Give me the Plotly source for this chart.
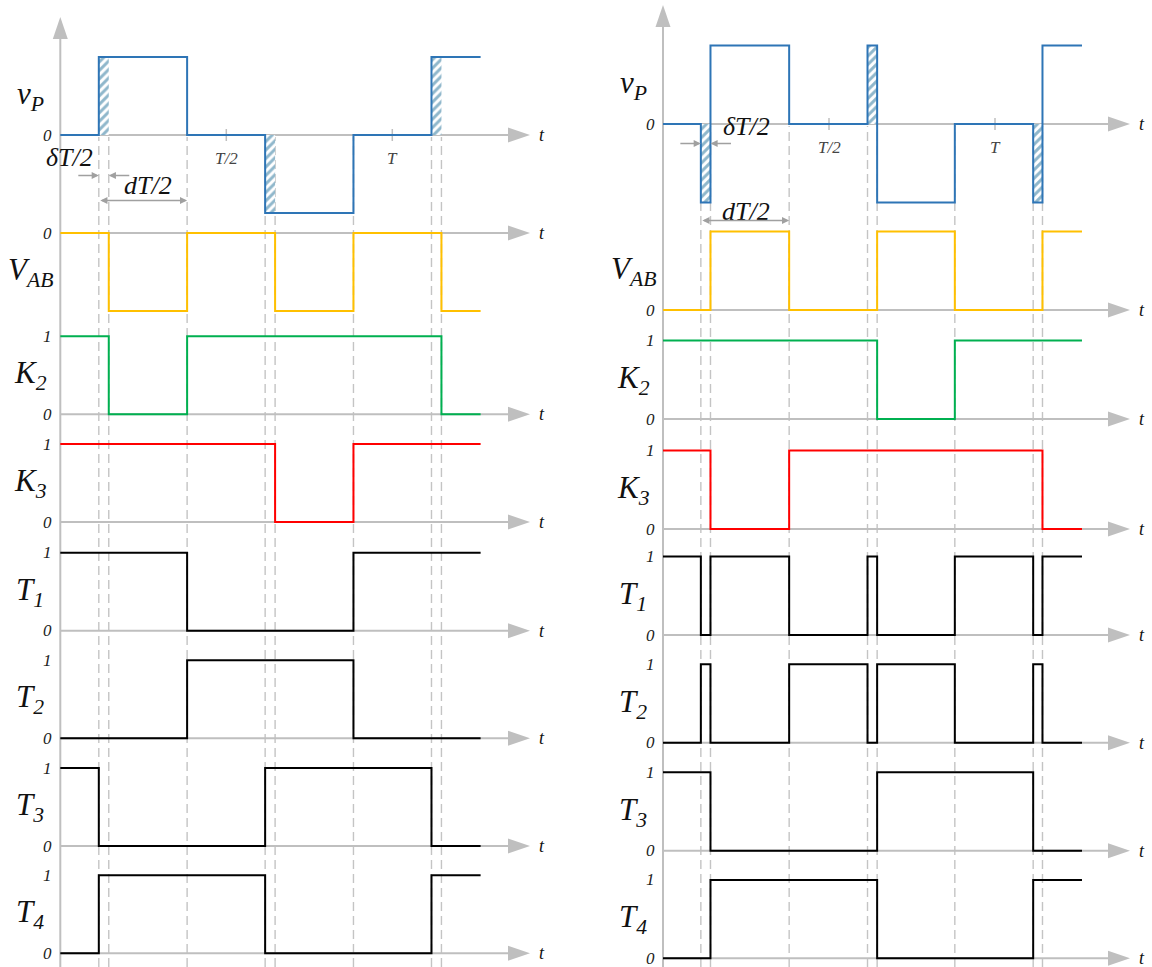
import plotly.graph_objects as go

W, H = 1152, 967

# ---------------- data (time in units of the period T) ----------------
left_edges = [0.116, 0.146, 0.382, 0.617, 0.647, 0.883, 1.118, 1.148]
left_end = 1.266
right_edges = [0.114, 0.143, 0.380, 0.616, 0.645, 0.879, 1.115, 1.143]
right_end = 1.262

row_labels = ["<i>v<sub>P</sub></i>", "<i>V<sub>AB</sub></i>", "<i>K<sub>2</sub></i>",
              "<i>K<sub>3</sub></i>", "<i>T<sub>1</sub></i>", "<i>T<sub>2</sub></i>",
              "<i>T<sub>3</sub></i>", "<i>T<sub>4</sub></i>"]

# levels in the 9 intervals delimited by the 8 edges
left_vP = [0, 1, 1, 0, -1, -1, 0, 1, 1]
left_VAB = [0, 0, -1, 0, 0, -1, 0, 0, -1]
left_K2 = [1, 1, 0, 1, 1, 1, 1, 1, 0]
left_K3 = [1, 1, 1, 1, 1, 0, 1, 1, 1]
left_T1 = [1, 1, 1, 0, 0, 0, 1, 1, 1]
left_T2 = [0, 0, 0, 1, 1, 1, 0, 0, 0]
left_T3 = [1, 0, 0, 0, 1, 1, 1, 0, 0]
left_T4 = [0, 1, 1, 1, 0, 0, 0, 1, 1]

right_vP = [0, -1, 1, 0, 1, -1, 0, -1, 1]
right_VAB = [0, 0, 1, 0, 0, 1, 0, 0, 1]
right_K2 = [1, 1, 1, 1, 1, 0, 1, 1, 1]
right_K3 = [1, 1, 0, 1, 1, 1, 1, 1, 0]
right_T1 = [1, 0, 1, 0, 1, 0, 1, 0, 1]
right_T2 = [0, 1, 0, 1, 0, 1, 0, 1, 0]
right_T3 = [1, 1, 0, 0, 0, 1, 1, 0, 0]
right_T4 = [0, 0, 1, 1, 1, 0, 0, 1, 1]

hatched_segments = [1, 4, 7]          # shaded intervals of vP (delta T/2)
period_ticks = [0.5, 1.0]
period_tick_text = ["<i>T/2</i>", "<i>T</i>"]
left_level_ticks = [[0], [0], [0, 1], [0, 1], [0, 1], [0, 1], [0, 1], [0, 1]]
right_level_ticks = [[0], [0], [0, 1], [0, 1], [0, 1], [0, 1], [0, 1], [0, 1]]

# ---------------- styles / geometry ----------------
row_colors = ["#2E75B6", "#FFC000", "#00B050", "#FF0000", "#000000", "#000000", "#000000", "#000000"]
hatch_color = "#1F6F98"
axis_gray = "#BFBFBF"
dash_gray = "#C4C4C4"
arrow_gray = "#A0A0A0"
FONT = "Liberation Serif, Times New Roman, serif"
PX_PER_T = 332.0

panels = [
    dict(edges=left_edges, end=left_end,
         signals=[left_vP, left_VAB, left_K2, left_K3, left_T1, left_T2, left_T3, left_T4],
         level_ticks=left_level_ticks,
         xdom=(0, 576), origin=60.3,
         zeros=[135, 233, 414.3, 522, 630.7, 738.3, 846, 953.3], unit=78.0,
         tip=530, vtop=17, label_y=[0.5, -0.5, 0.5, 0.5, 0.5, 0.5, 0.5, 0.5],
         delta_text=(69, 157), d_text=(147.5, 185), small_arrow_y=175.5, dbl_arrow_y=200.5),
    dict(edges=right_edges, end=right_end,
         signals=[right_vP, right_VAB, right_K2, right_K3, right_T1, right_T2, right_T3, right_T4],
         level_ticks=right_level_ticks,
         xdom=(576, 1152), origin=663.0,
         zeros=[124, 310, 419, 529, 635, 742.7, 850.7, 958.3], unit=78.4,
         tip=1130, vtop=5, label_y=[0.5, 0.5, 0.5, 0.5, 0.5, 0.5, 0.5, 0.5],
         delta_text=(746.5, 126.5), d_text=(746, 211.5), small_arrow_y=143.5, dbl_arrow_y=220.5),
]

fig = go.Figure()
layout = dict(width=W, height=H, margin=dict(l=0, r=0, t=0, b=0),
              paper_bgcolor="white", plot_bgcolor="white", showlegend=False)
shapes, annotations = [], []

def px2t(p, panel):
    return (p - panel["origin"]) / PX_PER_T

for pi, pan in enumerate(panels):
    xname = "x" if pi == 0 else "x2"
    xkey = "xaxis" if pi == 0 else "xaxis2"
    base_y = 1 + pi * 8
    layout[xkey] = dict(domain=[pan["xdom"][0] / W, pan["xdom"][1] / W],
                        range=[px2t(pan["xdom"][0], pan), px2t(pan["xdom"][1], pan)],
                        visible=False, fixedrange=True, anchor="y" if pi == 0 else "y9")
    edges = pan["edges"]
    xs = [0.0] + edges + [pan["end"]]
    t_tip = px2t(pan["tip"], pan)

    def yref(r):
        n = base_y + r
        return "y" if n == 1 else "y%d" % n

    def ykey(r):
        n = base_y + r
        return "yaxis" if n == 1 else "yaxis%d" % n

    # dashed vertical guide lines
    for e in edges:
        shapes.append(dict(type="line", xref=xname, yref="paper", x0=e, x1=e,
                           y0=0, y1=1 - (pan["zeros"][0] + 2) / H, layer="below",
                           line=dict(color=dash_gray, width=1.4, dash="9px,5px")))
    # vertical axis with arrow
    shapes.append(dict(type="line", xref=xname, yref="paper", x0=0, x1=0,
                       y0=0, y1=1 - (pan["vtop"] + 20) / H, layer="below",
                       line=dict(color=axis_gray, width=2)))
    shapes.append(dict(type="path", xref=xname, yref="paper", xsizemode="pixel", ysizemode="pixel",
                       xanchor=0, yanchor=1 - pan["vtop"] / H,
                       path="M0,0 L-7.5,-22 L7.5,-22 Z", fillcolor=axis_gray, line=dict(width=0)))

    for r in range(8):
        y0p = pan["zeros"][r]
        u = pan["unit"]
        axdef = dict(domain=[0, 1], range=[(y0p - H) / u, y0p / u], visible=False,
                     fixedrange=True, anchor=xname)
        if r > 0:
            axdef["overlaying"] = yref(0)
        layout[ykey(r)] = axdef

        # horizontal time axis + arrow + "t"
        shapes.append(dict(type="line", xref=xname, yref=yref(r), x0=0, x1=t_tip - 18 / PX_PER_T,
                           y0=0, y1=0, layer="below", line=dict(color=axis_gray, width=2)))
        shapes.append(dict(type="path", xref=xname, yref=yref(r), xsizemode="pixel", ysizemode="pixel",
                           xanchor=t_tip, yanchor=0, path="M0,0 L-22,7.5 L-22,-7.5 Z",
                           fillcolor=axis_gray, line=dict(width=0)))
        annotations.append(dict(xref=xname, yref=yref(r), x=t_tip, y=0, xshift=7, xanchor="left",
                                yanchor="middle", showarrow=False, text="<i>t</i>",
                                font=dict(family=FONT, size=18, color="#111")))

        sig = pan["signals"][r]
        # hatched delta regions on vP
        if r == 0:
            for s in hatched_segments:
                xa, xb = xs[s], xs[s + 1]
                fig.add_trace(go.Scatter(
                    x=[xa, xa, xb, xb, xa], y=[0, sig[s], sig[s], 0, 0], xaxis=xname, yaxis=yref(r),
                    mode="lines", fill="toself", fillcolor="white", line=dict(width=0),
                    fillpattern=dict(shape="/", fgcolor=hatch_color, bgcolor="white",
                                     size=6, solidity=0.5),
                    hoverinfo="skip"))
        # step signal
        fig.add_trace(go.Scatter(x=xs, y=sig + [sig[-1]], xaxis=xname, yaxis=yref(r),
                                 mode="lines", line=dict(color=row_colors[r], width=2, shape="hv"),
                                 hoverinfo="skip"))
        # level tick labels
        for lv in pan["level_ticks"][r]:
            yv = lv if not (r == 1 and pi == 0) else -lv
            annotations.append(dict(xref=xname, yref=yref(r), x=0, y=yv, xshift=-6, xanchor="right",
                                    yanchor="middle", showarrow=False, text="<i>%d</i>" % lv,
                                    font=dict(family=FONT, size=17, color="#222")))
        # row label
        annotations.append(dict(xref=xname, yref=yref(r), x=0, y=pan["label_y"][r], xshift=-30,
                                xanchor="center", yanchor="middle", showarrow=False,
                                text=row_labels[r], font=dict(family=FONT, size=31, color="#111")))

    # period ticks on vP axis
    vy = yref(0)
    for tv, tt in zip(period_ticks, period_tick_text):
        shapes.append(dict(type="line", xref=xname, yref=vy, ysizemode="pixel", yanchor=0,
                           x0=tv, x1=tv, y0=-6, y1=6, layer="below",
                           line=dict(color=axis_gray, width=1.5)))
        annotations.append(dict(xref=xname, yref=vy, x=tv, y=0, yshift=-23, xanchor="center",
                                yanchor="middle", showarrow=False, text=tt,
                                font=dict(family=FONT, size=17, color="#444")))

    u0 = pan["unit"]
    z0 = pan["zeros"][0]
    lvl = lambda p: -(p - z0) / u0
    a, b, c = edges[0], edges[1], edges[2]
    # delta T/2 label and arrows
    annotations.append(dict(xref=xname, yref=vy, x=px2t(pan["delta_text"][0], pan),
                            y=lvl(pan["delta_text"][1]), xanchor="center", yanchor="middle",
                            showarrow=False, text="<i>δT/2</i>",
                            font=dict(family=FONT, size=26, color="#111")))
    ya = lvl(pan["small_arrow_y"])
    annotations.append(dict(xref=xname, yref=vy, axref=xname, ayref=vy, x=a, y=ya,
                            ax=a - 22 / PX_PER_T, ay=ya, text="", showarrow=True, arrowhead=2,
                            arrowsize=1.1, arrowwidth=1.3, arrowcolor=arrow_gray))
    annotations.append(dict(xref=xname, yref=vy, axref=xname, ayref=vy, x=b, y=ya,
                            ax=b + 22 / PX_PER_T, ay=ya, text="", showarrow=True, arrowhead=2,
                            arrowsize=1.1, arrowwidth=1.3, arrowcolor=arrow_gray))
    # d T/2 label and double arrow
    annotations.append(dict(xref=xname, yref=vy, x=px2t(pan["d_text"][0], pan),
                            y=lvl(pan["d_text"][1]), xanchor="center", yanchor="middle",
                            showarrow=False, text="<i>dT/2</i>",
                            font=dict(family=FONT, size=26, color="#111")))
    yd = lvl(pan["dbl_arrow_y"])
    annotations.append(dict(xref=xname, yref=vy, axref=xname, ayref=vy, x=c, y=yd,
                            ax=a, ay=yd, text="", showarrow=True, arrowhead=2, arrowside="end+start",
                            arrowsize=1.1, arrowwidth=1.3, arrowcolor=arrow_gray))

layout["shapes"] = shapes
layout["annotations"] = annotations
fig.update_layout(**layout)

fig.write_html("out.html", post_script="document.body.style.margin='0';",
               config={"displayModeBar": False})
